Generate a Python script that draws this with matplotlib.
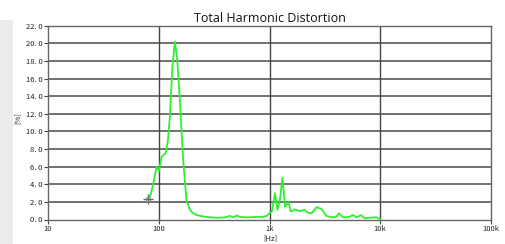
import matplotlib
matplotlib.use("Agg")
import matplotlib.pyplot as plt
from matplotlib.patches import Rectangle

# data (frequency in Hz, THD in %)
freq = [80.4, 84.5, 90, 95.7, 100.5, 106, 112, 116, 121, 126, 133, 140, 147, 155, 166, 178, 191,
        205, 220, 250, 290, 340, 400, 440, 470, 508, 540, 600, 665, 760, 860, 942, 1000, 1050,
        1120, 1180, 1240, 1310, 1380, 1430, 1480, 1560, 1700, 1880, 2080, 2200, 2400, 2660,
        2950, 3260, 3700, 4000, 4240, 4600, 5100, 5680, 6100, 6700, 7200, 8000, 9200, 10000]
thd = [2.3, 2.8, 4.3, 6.0, 5.5, 7.1, 7.4, 7.6, 9.0, 11.7, 17.4, 20.2, 18.1, 13.6, 6.8, 2.2, 1.1,
       0.7, 0.5, 0.35, 0.25, 0.2, 0.25, 0.4, 0.25, 0.45, 0.3, 0.25, 0.25, 0.3, 0.3, 0.4, 0.7, 0.9,
       3.0, 1.1, 2.2, 4.75, 1.45, 1.7, 2.0, 0.9, 1.15, 0.95, 1.1, 0.8, 0.7, 1.4,
       1.2, 0.4, 0.25, 0.3, 0.7, 0.25, 0.25, 0.5, 0.25, 0.5, 0.15, 0.2, 0.25, 0.05]
marker_f = [80.4]
marker_v = [2.3]
yticks = [0, 2, 4, 6, 8, 10, 12, 14, 16, 18, 20, 22]
ytick_labels = ["0. 0", "2. 0", "4. 0", "6. 0", "8. 0", "10. 0", "12. 0", "14. 0",
                "16. 0", "18. 0", "20. 0", "22. 0"]
xticks = [10, 100, 1000, 10000, 100000]
xtick_labels = ["10", "100", "1k", "10k", "100k"]

fig = plt.figure(figsize=(5.06, 2.44), dpi=100)
fig.patch.set_facecolor("white")
fig.patches.append(Rectangle((0, 0), 13 / 506, 1 - 20 / 244, transform=fig.transFigure,
                             facecolor="#ececec", edgecolor="none", zorder=0))

ax = fig.add_axes([48 / 506, 1 - 219.5 / 244, (491 - 48) / 506, (219.5 - 25.7) / 244])
ax.set_xscale("log")
ax.set_xlim(10, 100000)
ax.set_ylim(0, 22)

for v in yticks[1:-1]:
    ax.axhline(v, color="#575757", lw=1.2, zorder=1)
for f in xticks[1:-1]:
    ax.axvline(f, color="#444444", lw=1.0, zorder=1)

ax.plot(freq, thd, color="#2ef02e", lw=1.3, zorder=3)
ax.plot(marker_f, marker_v, marker="+", ms=7, color="#666666", mew=1.0, zorder=4, ls="none")
ax.plot(marker_f, marker_v, marker="o", ms=3.5, mfc="none", color="#888888", mew=0.6, zorder=4, ls="none")

tick_font = ["Noto Sans CJK JP", "DejaVu Sans"]
ax.set_yticks(yticks)
ax.set_yticklabels(ytick_labels, family=tick_font, fontsize=5.5, color="#222222")
ax.set_xticks(xticks)
ax.set_xticklabels(xtick_labels, family=tick_font, fontsize=5.5, color="#222222")
ax.minorticks_off()
ax.tick_params(axis="y", length=3, width=0.8, color="#444444", pad=1)
ax.tick_params(axis="x", length=3, width=0.8, color="#444444", pad=1)

for s in ax.spines.values():
    s.set_color("#666666")
    s.set_linewidth(1.0)

ax.set_title("Total Harmonic Distortion", fontsize=9, family="Open Sans", color="#111111", pad=3)
fig.text(18 / 506, 1 - 118 / 244, "[%]", rotation=90, ha="center", va="center",
         fontsize=5.5, family=tick_font, color="#222222")
fig.text(270 / 506, 1 - 238 / 244, "[Hz]", ha="center", va="center",
         fontsize=5.5, family=tick_font, color="#222222")

fig.savefig("out.png", dpi=100)
